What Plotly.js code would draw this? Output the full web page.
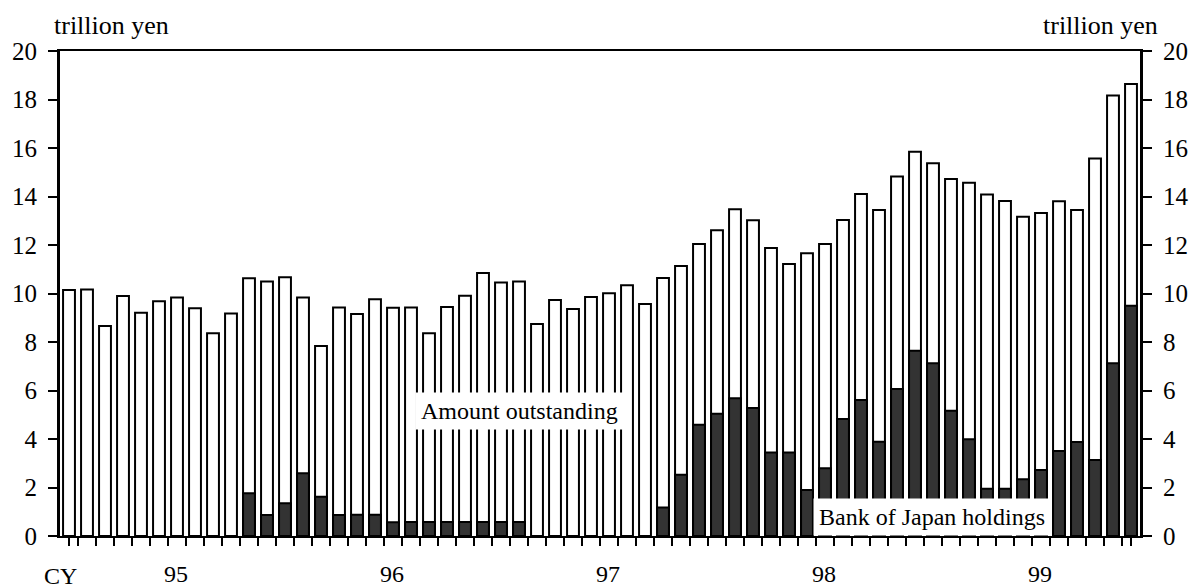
<!DOCTYPE html>
<html>
<head>
<meta charset="utf-8">
<script src="https://cdn.plot.ly/plotly-3.0.1.min.js"></script>
<style>html,body{margin:0;padding:0;background:#fff}#chart{width:1190px;height:588px}</style>
</head>
<body>
<div id="chart"></div>
<script>
// Monthly, CY1995 Jan ... CY1999 Dec (index 0..59)
const months = Array.from({length: 60}, (_, i) => i);
const amountOutstanding = [
  10.14, 10.17, 8.66, 9.90, 9.21, 9.68, 9.84, 9.39, 8.36, 9.18, 10.63, 10.49,
  10.67, 9.84, 7.84, 9.42, 9.15, 9.76, 9.41, 9.42, 8.36, 9.44, 9.91, 10.85,
  10.45, 10.49, 8.74, 9.73, 9.36, 9.86, 10.01, 10.34, 9.57, 10.64, 11.13, 12.04,
  12.61, 13.47, 13.02, 11.88, 11.22, 11.66, 12.04, 13.03, 14.10, 13.44, 14.82, 15.85,
  15.37, 14.72, 14.57, 14.08, 13.81, 13.17, 13.32, 13.80, 13.44, 15.57, 18.16, 18.64
];
const bojHoldings = [
  0, 0, 0, 0, 0, 0, 0, 0, 0, 0, 1.76, 0.87,
  1.35, 2.59, 1.62, 0.87, 0.88, 0.88, 0.57, 0.58, 0.58, 0.58, 0.58, 0.58,
  0.58, 0.58, 0, 0, 0, 0, 0, 0, 0, 1.18, 2.53, 4.59,
  5.04, 5.68, 5.28, 3.44, 3.44, 1.90, 2.79, 4.82, 5.61, 3.89, 6.06, 7.64,
  7.12, 5.17, 3.99, 1.95, 1.95, 2.34, 2.72, 3.51, 3.88, 3.13, 7.12, 9.50
];
const yearLabels = ['95', '96', '97', '98', '99'];
const yTicks = [0, 2, 4, 6, 8, 10, 12, 14, 16, 18, 20];

const FONT = '"Liberation Serif", "Times New Roman", serif';
const n = months.length;
const yearLabelPos = yearLabels.map((_, k) => k * 12 + 6 - 0.05);
const boundaryTicks = months.slice(1).map(i => i - 0.5);
const minorTicks = [0].concat(boundaryTicks).concat([n - 1]);
const yearBounds = [12, 24, 36, 48].map(i => i - 0.5);

const traces = [
  {
    type: 'bar', x: months, y: amountOutstanding, width: 0.66,
    marker: {color: '#ffffff', line: {color: '#000', width: 2}},
    hoverinfo: 'skip', showlegend: false
  },
  {
    type: 'bar', x: months, y: bojHoldings, width: 0.66,
    marker: {color: '#333333', line: {color: '#000', width: 2}},
    hoverinfo: 'skip', showlegend: false
  },
  {
    type: 'scatter', x: [0], y: [0], xaxis: 'x2', yaxis: 'y2',
    mode: 'markers', marker: {opacity: 0}, hoverinfo: 'skip', showlegend: false
  }
];

const shapes = yearBounds.map(b => ({
  type: 'line', xref: 'x', yref: 'y', x0: b - 0.6, x1: b + 0.6, y0: -0.12, y1: -0.12,
  line: {color: '#000', width: 5}
}));

const layout = {
  width: 1190, height: 588,
  margin: {l: 60, r: 50, t: 51, b: 52},
  paper_bgcolor: '#fff', plot_bgcolor: '#fff',
  barmode: 'overlay', bargap: 0,
  font: {family: FONT, size: 24, color: '#000'},
  xaxis: {
    range: [-0.5, n - 0.5], showgrid: false, zeroline: false,
    showline: true, linecolor: '#000', linewidth: 2, mirror: true,
    tickmode: 'array', tickvals: minorTicks, ticktext: minorTicks.map(() => ''),
    ticks: 'outside', ticklen: 8, tickwidth: 2, tickcolor: '#000', fixedrange: true
  },
  xaxis2: {
    overlaying: 'x', anchor: 'y', side: 'bottom', matches: 'x',
    range: [-0.5, n - 0.5], showgrid: false, zeroline: false, showline: false,
    tickmode: 'array', tickvals: yearLabelPos, ticktext: yearLabels,
    ticks: '', ticklabelstandoff: 21, tickfont: {family: FONT, size: 24}
  },
  yaxis: {
    range: [0, 20], showgrid: false, zeroline: false,
    showline: true, linecolor: '#000', linewidth: 3,
    tickmode: 'array', tickvals: yTicks, ticks: 'outside', ticklen: 9, tickwidth: 2,
    tickcolor: '#000', tickfont: {family: FONT, size: 25}, ticklabelstandoff: 6
  },
  yaxis2: {
    overlaying: 'y', side: 'right', anchor: 'x',
    range: [0, 20], showgrid: false, zeroline: false,
    showline: true, linecolor: '#000', linewidth: 3,
    tickmode: 'array', tickvals: yTicks, ticks: 'outside', ticklen: 9, tickwidth: 2,
    tickcolor: '#000', tickfont: {family: FONT, size: 25}, ticklabelstandoff: 6
  },
  shapes: shapes,
  annotations: [
    {xref: 'paper', yref: 'paper', x: -0.0075, y: 1.018, xanchor: 'left', yanchor: 'bottom',
     text: 'trillion yen', showarrow: false, font: {family: FONT, size: 26}},
    {xref: 'paper', yref: 'paper', x: 1.0185, y: 1.018, xanchor: 'right', yanchor: 'bottom',
     text: 'trillion yen', showarrow: false, font: {family: FONT, size: 26}},
    {xref: 'paper', yref: 'paper', x: 0, y: -0.0825, xanchor: 'center', yanchor: 'middle',
     text: 'CY', showarrow: false, font: {family: FONT, size: 24}},
    {xref: 'paper', yref: 'paper', x: 0.4255, y: 0.258, xanchor: 'center', yanchor: 'middle',
     text: 'Amount outstanding', showarrow: false, bgcolor: '#fff', borderpad: 5,
     font: {family: FONT, size: 24}},
    {xref: 'paper', yref: 'paper', x: 0.807, y: 0.040, xanchor: 'center', yanchor: 'middle',
     text: 'Bank of Japan holdings', showarrow: false, bgcolor: '#fff', borderpad: 5,
     font: {family: FONT, size: 24}}
  ]
};

Plotly.newPlot('chart', traces, layout, {displayModeBar: false, staticPlot: true});
</script>
</body>
</html>
